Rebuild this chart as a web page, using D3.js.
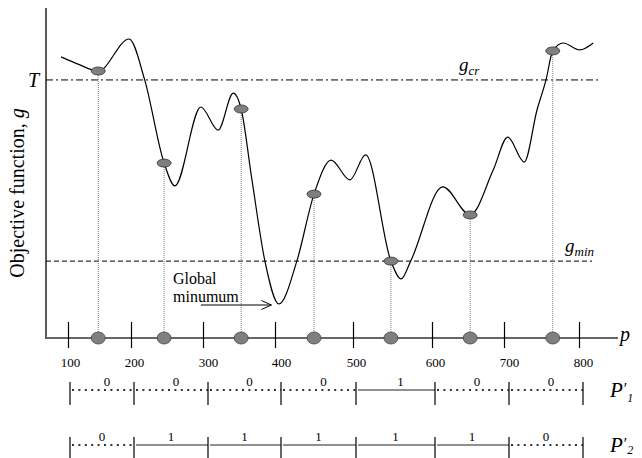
<!DOCTYPE html>
<html>
<head>
<meta charset="utf-8">
<script src="https://cdnjs.cloudflare.com/ajax/libs/d3/7.8.5/d3.min.js"></script>
<style>
  body { margin: 0; background: #fff; }
  svg { display: block; }
  svg text { font-family: "Liberation Serif", "Times New Roman", serif; fill: #000; }
</style>
</head>
<body>
<svg></svg>
<script>
let pTicks = [100, 200, 300, 400, 500, 600, 700, 800];

// objective function g(p)
let curveP = [89, 116, 148, 197, 219, 246, 261, 297, 321, 342, 353, 368, 386, 405, 428, 450, 472, 496, 516,
  548, 561, 573, 615, 653, 685, 705, 727, 744, 756, 765, 779, 801, 819];
let curveG = [85.2, 83.0, 80.9, 90.6, 78.2, 53.0, 46.1, 70.0, 63.0, 74.2, 69.4, 47.9, 23.3, 10.3, 23.3, 43.6, 53.9, 47.9, 55.5,
  23.3, 17.9, 23.3, 45.8, 37.3, 50.9, 60.9, 53.3, 69.1, 78.2, 87.0, 89.4, 87.3, 89.4];

// sampled points (one per interval)
let markP = [148, 246, 353, 450, 548, 653, 765];
let markG = [80.9, 53.0, 69.4, 43.6, 23.3, 37.3, 87.0];

let gCr = 78.2; //threshold T
let gMin = 23.3;

// the two binary strings under the axis
let bitsP1 = [0, 0, 0, 0, 1, 0, 0];
let bitsP2 = [0, 1, 1, 1, 1, 1, 0];

// global minimum arrow (p from, p to, g)
let arrowP = [297, 395];
let arrowG = 10;

let width = 642;
let height = 458;

let svg = d3.select("svg").attr("width", width).attr("height", height);

// the hand drawn axis is not evenly spaced, so the scales go piece by piece
let xScale = d3.scaleLinear().domain(pTicks).range([68, 131, 203, 275, 353, 432, 504, 579]);
let rowScale = d3.scaleLinear().domain(pTicks).range([70, 134, 208, 281, 356, 435, 509, 583]);
let yScale = d3.scaleLinear().domain([0, 100]).range([338, 8]);

let axisX = 46;
let axisY = yScale(0);

// threshold lines
svg.append("line")
  .attr("x1", axisX).attr("x2", 598)
  .attr("y1", yScale(gCr)).attr("y2", yScale(gCr))
  .attr("stroke", "#000").attr("stroke-width", 1)
  .attr("stroke-dasharray", "7,3,2,3");

svg.append("line")
  .attr("x1", axisX).attr("x2", 592)
  .attr("y1", yScale(gMin)).attr("y2", yScale(gMin))
  .attr("stroke", "#000").attr("stroke-width", 1)
  .attr("stroke-dasharray", "5,3");

// dotted drop lines from the samples to the axis
svg.selectAll(".drop")
  .data(markP)
  .enter()
  .append("line")
  .attr("class", "drop")
  .attr("x1", (d) => xScale(d)).attr("x2", (d) => xScale(d))
  .attr("y1", (d, i) => yScale(markG[i])).attr("y2", axisY)
  .attr("stroke", "#777").attr("stroke-width", 1)
  .attr("stroke-dasharray", "1,1");

// the curve
let line = d3.line()
  .x((d) => xScale(d[0]))
  .y((d) => yScale(d[1]))
  .curve(d3.curveMonotoneX);

svg.append("path")
  .datum(curveP.map((p, i) => [p, curveG[i]]))
  .attr("d", line)
  .attr("fill", "none")
  .attr("stroke", "#000")
  .attr("stroke-width", 1.2);

// samples on the curve
svg.selectAll(".mark")
  .data(markP)
  .enter()
  .append("ellipse")
  .attr("class", "mark")
  .attr("cx", (d) => xScale(d))
  .attr("cy", (d, i) => yScale(markG[i]))
  .attr("rx", 7).attr("ry", 4)
  .attr("fill", "#7f7f7f").attr("stroke", "#333").attr("stroke-width", 0.8);

// axes
svg.append("line")
  .attr("x1", axisX).attr("x2", axisX)
  .attr("y1", yScale(100)).attr("y2", axisY + 1)
  .attr("stroke", "#000").attr("stroke-width", 1.3);

svg.append("line")
  .attr("x1", axisX).attr("x2", 618)
  .attr("y1", axisY).attr("y2", axisY)
  .attr("stroke", "#666").attr("stroke-width", 2);

let xAxis = d3.axisBottom(xScale).tickValues(pTicks).tickSize(10);
svg.append("g")
  .attr("transform", "translate(0," + axisY + ")")
  .call(xAxis)
  .attr("font-family", null)
  .call((g) => g.select(".domain").remove())
  .call((g) => g.selectAll(".tick line").attr("y1", -16).attr("y2", 10).attr("stroke", "#000").attr("stroke-width", 1.2))
  .call((g) => g.selectAll(".tick text")
    .attr("x", (d) => rowScale(d) - xScale(d))
    .attr("y", 29).attr("dy", 0)
    .attr("font-size", 13));

// samples on the p axis
svg.selectAll(".axmark")
  .data(markP)
  .enter()
  .append("ellipse")
  .attr("class", "axmark")
  .attr("cx", (d) => xScale(d))
  .attr("cy", axisY)
  .attr("rx", 7).attr("ry", 6)
  .attr("fill", "#7f7f7f").attr("stroke", "#444").attr("stroke-width", 0.8);

// labels
svg.append("text")
  .attr("transform", "translate(24,193) rotate(-90)")
  .attr("text-anchor", "middle")
  .attr("font-size", 20)
  .call((t) => {
    t.append("tspan").text("Objective function, ");
    t.append("tspan").attr("font-style", "italic").text("g");
  });

svg.append("text")
  .attr("x", 28).attr("y", yScale(gCr) + 7)
  .attr("font-size", 20).attr("font-style", "italic")
  .text("T");

svg.append("text")
  .attr("x", 459).attr("y", yScale(gCr) - 9)
  .attr("font-style", "italic")
  .call((t) => {
    t.append("tspan").attr("font-size", 19).text("g");
    t.append("tspan").attr("font-size", 13).attr("dy", 4).text("cr");
  });

svg.append("text")
  .attr("x", 565).attr("y", yScale(gMin) - 9)
  .attr("font-style", "italic")
  .call((t) => {
    t.append("tspan").attr("font-size", 19).text("g");
    t.append("tspan").attr("font-size", 13).attr("dy", 4).text("min");
  });

svg.append("text")
  .attr("x", 620).attr("y", axisY + 3)
  .attr("font-size", 20).attr("font-style", "italic")
  .text("p");

// global minimum note
let ax1 = xScale(arrowP[0]);
let ax2 = xScale(arrowP[1]);
let ay = yScale(arrowG);
svg.append("text").attr("x", 173).attr("y", ay - 21).attr("font-size", 16).text("Global");
svg.append("text").attr("x", 173).attr("y", ay - 3).attr("font-size", 16).text("minumum");
svg.append("path")
  .attr("d", "M" + ax1 + "," + ay + "H" + ax2 + "M" + (ax2 - 10) + "," + (ay - 4.5) + "L" + ax2 + "," + ay + "L" + (ax2 - 10) + "," + (ay + 4.5))
  .attr("fill", "none").attr("stroke", "#000").attr("stroke-width", 1);

// binary strings
let drawRow = (bits, yLine, sub, labelShift, subY) => {
  let segs = d3.pairs(pTicks).map((pr, i) => ({ a: pr[0], b: pr[1], bit: bits[i] }));
  let g = svg.append("g").attr("transform", "translate(0," + yLine + ")");

  g.selectAll(".seg")
    .data(segs)
    .enter()
    .append("line")
    .attr("x1", (d) => rowScale(d.a) + 2)
    .attr("x2", (d) => rowScale(d.b))
    .attr("stroke", (d) => (d.bit ? "#222" : "#333"))
    .attr("stroke-width", (d) => (d.bit ? 1.2 : 2))
    .attr("stroke-dasharray", (d) => (d.bit ? null : "2,4.4"));

  g.selectAll(".bit")
    .data(segs)
    .enter()
    .append("text")
    .attr("x", (d) => (rowScale(d.a) + rowScale(d.b)) / 2 + labelShift)
    .attr("y", -4)
    .attr("text-anchor", "middle")
    .attr("font-size", 13)
    .text((d) => d.bit);

  g.selectAll(".tk")
    .data(pTicks)
    .enter()
    .append("line")
    .attr("x1", (d) => rowScale(d)).attr("x2", (d) => rowScale(d))
    .attr("y1", -8).attr("y2", 15)
    .attr("stroke", "#000").attr("stroke-width", 1.2);

  g.append("text")
    .attr("x", 610).attr("y", 7)
    .attr("font-style", "italic")
    .call((t) => {
      t.append("tspan").attr("font-size", 21).text("P");
      t.append("tspan").attr("font-size", 16).attr("dy", -3).text("\u2032");
      t.append("tspan").attr("font-size", 12).attr("dx", 1).attr("y", subY).text(sub);
    });
};

drawRow(bitsP1, 390, "1", 5, 12);
drawRow(bitsP2, 445, "2", 0, 8.5);
</script>
</body>
</html>
